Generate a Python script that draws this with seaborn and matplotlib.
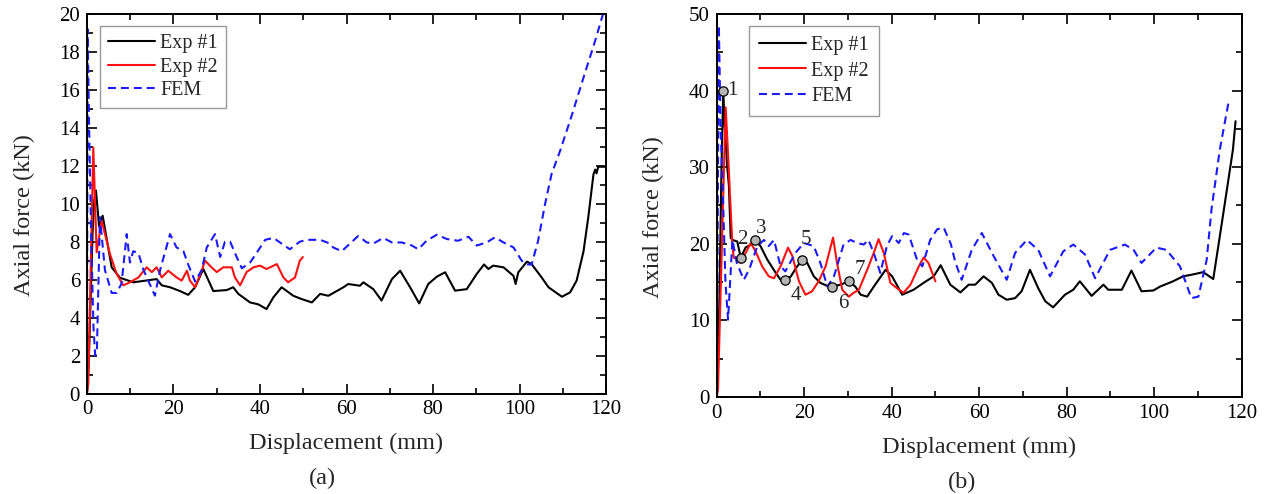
import numpy as np
import pandas as pd
import seaborn as sns
import matplotlib.pyplot as plt
from matplotlib.ticker import MultipleLocator

# ---- panel (a) ----
a_exp1_x = [0, 0.4, 1.3, 1.7, 2.08, 2.8, 3.63, 5.71, 7.63, 10.7, 16.1, 17.3, 19.2, 21.5, 23.4, 25.0,
            26.9, 29.2, 32.3, 33.8, 35.0, 37.7, 39.6, 41.5, 43.1, 45.0, 47.7, 49.6, 52.0, 53.9, 55.8,
            59.3, 60.4, 63.1, 63.9, 66.2, 68.1, 70.5, 72.4, 74.7, 76.8, 78.9, 80.9, 82.8, 85.1, 87.8,
            90.1, 91.8, 92.8, 93.9, 96.3, 98.6, 99.1, 99.7, 101.7, 102.8, 105.1, 106.7, 109.8, 111.7,
            113.2, 114.8, 115.9, 117.1, 117.5, 117.8, 118.2, 119.8]
a_exp1_y = [0, 1.5, 8.5, 10.2, 10.7, 8.8, 9.37, 6.65, 6.1, 5.86, 6.03, 5.7, 5.6, 5.4, 5.2, 5.6,
            6.56, 5.4, 5.45, 5.6, 5.25, 4.8, 4.7, 4.45, 5.07, 5.6, 5.15, 4.98, 4.8, 5.25, 5.15,
            5.6, 5.77, 5.68, 5.86, 5.5, 4.9, 6.03, 6.47, 5.6, 4.75, 5.77, 6.16, 6.39, 5.42, 5.5,
            6.3, 6.8, 6.56, 6.74, 6.65, 6.2, 5.77, 6.38, 6.95, 6.82, 6.12, 5.6, 5.1, 5.33,
            5.95, 7.5, 9.3, 11.56, 11.8, 11.6, 11.95, 11.95]

a_exp2_x = [0, 0.3, 1.46, 2.24, 3.40, 5.32, 6.87, 8.39, 9.94, 11.9, 13.8, 15.0, 16.1, 17.3, 18.8,
            20.7, 21.9, 23.1, 23.8, 25.0, 26.5, 27.3, 28.8, 30.0, 31.5, 33.5, 34.2, 35.4, 36.9,
            38.5, 40.0, 41.5, 43.9, 45.4, 46.5, 48.1, 49.2, 49.9]
a_exp2_y = [0, 0.5, 12.96, 7.44, 9.1, 7.35, 6.3, 5.7, 5.86, 6.12, 6.65, 6.4, 6.65, 6.12, 6.47,
            6.12, 5.95, 6.47, 5.95, 5.6, 6.47, 7.0, 6.65, 6.4, 6.65, 6.65, 6.12, 5.7, 6.4,
            6.65, 6.74, 6.56, 6.82, 6.12, 5.86, 6.12, 7.0, 7.19]

a_fem_x = [0, 0.15, 0.5, 1.0, 1.5, 1.9, 2.3, 3.0, 4.16, 5.71, 6.87, 8.0, 9.18, 9.94, 10.7, 11.9,
           13.0, 15.7, 16.9, 19.2, 20.7, 22.3, 23.4, 25.0, 26.5, 27.7, 29.6, 30.8, 31.9, 33.1,
           34.6, 35.8, 37.7, 39.2, 41.2, 43.1, 45.0, 46.9, 49.2, 50.8, 53.9, 56.2, 56.9, 58.9,
           62.7, 64.7, 66.2, 68.5, 70.5, 72.8, 75.1, 76.6, 78.5, 80.9, 83.2, 85.8, 88.2, 90.1,
           92.4, 94.3, 96.3, 98.6, 100.5, 101.7, 102.8, 104.3, 105.9, 107.4, 109.4, 112.0,
           115.0, 117.5, 119.3]
a_fem_y = [0, 19.2, 14.0, 8.0, 3.5, 2.0, 2.3, 9.3, 6.5, 5.3, 5.3, 5.8, 8.4, 6.9, 7.5, 7.4,
           6.55, 5.16, 6.5, 8.4, 7.7, 7.5, 6.8, 5.9, 6.5, 7.7, 8.4, 7.2, 8.0, 8.0,
           7.2, 6.6, 6.9, 7.4, 8.1, 8.2, 7.9, 7.6, 8.0, 8.1, 8.1, 7.9, 7.7, 7.5,
           8.3, 7.96, 7.9, 8.2, 7.96, 7.96, 7.8, 7.6, 8.05, 8.37, 8.14, 8.05, 8.26, 7.8,
           7.96, 8.23, 7.96, 7.7, 7.0, 6.8, 6.8, 8.05, 9.98, 11.56, 12.8, 14.6,
           16.8, 18.6, 20.0]

# ---- panel (b) ----
b_exp1_x = [0, 0.6, 1.1, 1.5, 1.83, 2.4, 2.8, 3.2, 3.6, 4.7, 5.5, 6.6, 7.8, 8.7, 10.0, 11.6, 13.5,
            14.6, 15.7, 16.9, 18.4, 19.6, 20.7, 22.2, 23.7, 25.3, 26.4, 28.3, 30.2, 31.7, 32.9,
            34.4, 35.9, 38.6, 40.1, 42.4, 45.0, 47.3, 49.6, 51.2, 53.4, 55.7, 57.6, 59.1, 61.0,
            62.9, 64.4, 66.3, 68.2, 69.7, 71.6, 73.5, 75.1, 76.9, 79.6, 81.5, 83.0, 85.7, 88.4,
            89.5, 92.6, 94.8, 97.1, 99.8, 101.3, 104.3, 106.6, 108.9, 111.2, 113.5, 115.7,
            118.0, 118.6]
b_exp1_y = [0, 12, 30, 40, 35.4, 30.1, 27.5, 20.8, 20.5, 20.3, 18.2, 19.5, 19.9, 20.5, 19.7, 17.9, 16.2,
            15.3, 15.3, 15.7, 17.05, 17.85, 17.5, 15.75, 14.9, 14.5, 14.4, 14.66, 15.1, 14.4, 13.35,
            13.1, 14.4, 16.6, 15.75, 13.35, 14.0, 14.9, 15.75, 17.2, 14.66, 13.65, 14.66, 14.66, 15.75,
            14.9, 13.35, 12.7, 12.9, 13.8, 16.6, 14.2, 12.5, 11.7, 13.35, 14.0, 15.1, 13.2, 14.66,
            14.0, 14.0, 16.5, 13.8, 13.9, 14.4, 15.1, 15.75, 16.0, 16.3, 15.4, 23.6,
            32.3, 36.0]

b_exp2_x = [0, 0.3, 2.05, 2.4, 2.8, 3.6, 3.9, 5.1, 5.4, 6.6, 7.8, 8.9, 10.4, 11.9, 13.1, 14.6,
            16.3, 17.3, 18.8, 20.3, 21.8, 23.3, 24.9, 26.0, 26.6, 27.5, 28.7, 30.2, 31.3, 32.5,
            34.4, 35.9, 37.0, 38.2, 39.7, 41.2, 42.7, 44.3, 46.2, 47.3, 48.4, 50.0]
b_exp2_y = [0, 1, 37.8, 34, 29.3, 19.7, 18.2, 17.9, 17.5, 18.8, 20.1, 19.0, 17.05, 15.75, 15.5, 17.05,
            19.5, 18.4, 15.1, 13.35, 13.8, 15.1, 17.05, 19.5, 20.8, 17.5, 14.0, 13.1, 13.6, 14.0,
            16.6, 18.8, 20.6, 18.8, 14.9, 14.2, 13.6, 14.66, 17.05, 18.2, 17.5, 15.1]

b_fem_x = [0, 0.5, 0.9, 1.5, 2.0, 2.6, 3.6, 4.6, 6.2, 7.4, 9.3, 10.8, 11.9, 13.1, 14.6, 15.7, 18.0,
           19.9, 22.2, 23.7, 25.3, 26.8, 29.0, 30.6, 32.1, 33.6, 34.7, 35.9, 37.4, 38.9, 40.1,
           41.6, 42.8, 43.9, 45.8, 47.0, 48.8, 50.4, 51.9, 53.5, 54.6, 56.0, 58.3, 60.6, 63.3,
           66.3, 68.2, 70.9, 73.5, 76.2, 79.2, 81.5, 84.2, 86.5, 89.9, 93.3, 95.3, 97.1, 100.5,
           102.8, 105.9, 108.5, 110.1, 112.0, 113.1, 115.0, 117.0]
b_fem_y = [0, 48.5, 35, 25, 15, 10.1, 20.5, 17.5, 15.3, 16.6, 19.7, 20.5, 19.7, 20.5, 17.05, 16.4, 18.8,
           20.1, 19.7, 17.5, 14.4, 15.75, 19.9, 20.5, 20.1, 19.9, 20.5, 18.8, 16.2, 19.7, 21.0,
           20.1, 21.4, 21.2, 17.9, 17.05, 20.5, 21.9, 22.1, 20.0, 17.5, 15.3, 19.2, 21.4, 18.4,
           15.3, 18.8, 20.5, 19.2, 15.75, 19.0, 19.9, 18.6, 15.5, 19.2, 19.9, 19.2, 17.5, 19.5,
           19.2, 17.05, 12.9, 13.1, 17.9, 24.5, 32.3, 38.5]

# marked states on Exp #1 of panel (b)
mark_x = [1.5, 5.5, 8.7, 15.7, 19.6, 26.4, 30.2]
mark_y = [40, 18.2, 20.5, 15.3, 17.85, 14.4, 15.1]
mark_lbl = ['1', '2', '3', '4', '5', '6', '7']
mark_lbl_x = [3.6, 5.9, 10.2, 18.0, 20.5, 28.9, 32.7]
mark_lbl_y = [40, 20.6, 22.0, 13.3, 20.6, 12.2, 16.7]

series = ['Exp #1', 'Exp #2', 'FEM']
colors = {'Exp #1': 'black', 'Exp #2': '#ff1010', 'FEM': '#1a1aff'}

sns.set_style('ticks')
plt.rcParams['font.family'] = ['Liberation Serif', 'DejaVu Serif']

fig = plt.figure(figsize=(12.66, 4.94), dpi=100)
ax_a = fig.add_axes([0.0687, 0.2034, 0.41, 0.7683])
ax_b = fig.add_axes([0.5661, 0.1964, 0.4147, 0.7753])


def draw(ax, data, ymax, ymajor, yminor, panel, panel_x):
    for name, (xs, ys) in zip(series, data):
        df = pd.DataFrame({'Displacement': xs, 'Force': ys})
        ls = (0, (3.8, 2.4)) if name == 'FEM' else '-'
        sns.lineplot(data=df, x='Displacement', y='Force', ax=ax, sort=False, estimator=None,
                     color=colors[name], linewidth=1.5, linestyle=ls, label=name)
    ax.set_xlim(0, 120)
    ax.set_ylim(0, ymax)
    ax.xaxis.set_major_locator(MultipleLocator(20))
    ax.xaxis.set_minor_locator(MultipleLocator(10))
    ax.yaxis.set_major_locator(MultipleLocator(ymajor))
    ax.yaxis.set_minor_locator(MultipleLocator(yminor))
    ax.tick_params(which='both', direction='in', top=True, right=True, width=1.2,
                   labelsize=15, colors='black', pad=5)
    ax.tick_params(which='major', length=7)
    ax.tick_params(which='minor', length=4)
    for sp in ax.spines.values():
        sp.set_linewidth(1.4)
        sp.set_color('black')
    ax.set_xlabel('Displacement (mm)', fontsize=17.5, va='center')
    ax.set_ylabel('Axial force (kN)', fontsize=17.5, va='center')
    h = ax.get_position().height * 494
    w = ax.get_position().width * 1266
    ax.xaxis.set_label_coords(0.5, -50 / h)
    ax.yaxis.set_label_coords(-63 / w, 0.47)
    ax.text(panel_x, -85 / h, panel, transform=ax.transAxes, ha='center', va='center',
            fontsize=17.5)


draw(ax_a, [(a_exp1_x, a_exp1_y), (a_exp2_x, a_exp2_y), (a_fem_x, a_fem_y)], 20, 2, 1, '(a)', 0.453)
draw(ax_b, [(b_exp1_x, b_exp1_y), (b_exp2_x, b_exp2_y), (b_fem_x, b_fem_y)], 50, 10, 5, '(b)', 0.467)

# markers and their numbers
sns.scatterplot(x=mark_x, y=mark_y, ax=ax_b, s=45, color='#b4b4b4', edgecolor='black',
                linewidth=0.9, zorder=5, legend=False)
for tx, ty, t in zip(mark_lbl_x, mark_lbl_y, mark_lbl):
    ax_b.text(tx, ty, t, fontsize=15, ha='center', va='center', zorder=6)

for ax, bx, bp, ls in [(ax_a, 0.025, 0.4, 0.22), (ax_b, 0.0615, 0.5, 0.3)]:
    leg = ax.legend(loc='upper left', bbox_to_anchor=(bx, 0.968), fontsize=14.5, frameon=True,
                    fancybox=False, edgecolor='#808080', handlelength=2.35, handletextpad=0.25,
                    labelspacing=ls, borderpad=bp, borderaxespad=0)
    leg.get_frame().set_linewidth(1.0)

fig.savefig('out.png', dpi=100)
